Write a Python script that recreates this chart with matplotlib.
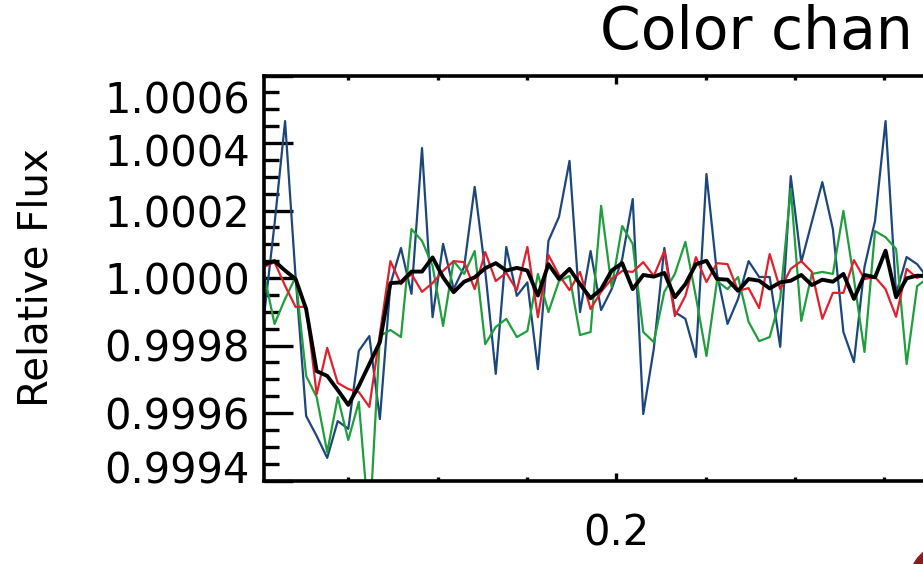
import numpy as np
import matplotlib
matplotlib.use("Agg")
import matplotlib.pyplot as plt
from matplotlib.ticker import MultipleLocator
from matplotlib.transforms import ScaledTranslation
from matplotlib.patches import Circle

# orbital phase of each sample
phase = [0.0027, 0.0086, 0.0145, 0.0204, 0.0263, 0.0322, 0.0381, 0.0440,
         0.0499, 0.0558, 0.0617, 0.0676, 0.0735, 0.0794, 0.0853, 0.0912,
         0.0971, 0.1030, 0.1089, 0.1148, 0.1207, 0.1266, 0.1325, 0.1384,
         0.1443, 0.1502, 0.1561, 0.1620, 0.1679, 0.1738, 0.1797, 0.1856,
         0.1915, 0.1974, 0.2033, 0.2092, 0.2151, 0.2210, 0.2269, 0.2328,
         0.2387, 0.2446, 0.2505, 0.2564, 0.2623, 0.2682, 0.2741, 0.2800,
         0.2859, 0.2918, 0.2977, 0.3036, 0.3095, 0.3154, 0.3213, 0.3272,
         0.3331, 0.3390, 0.3449, 0.3508, 0.3567, 0.3626, 0.3685, 0.3744]

# deviation from unity, parts per million
blue_ppm = [-113, 160, 465, 3, -409, -468, -533, -424, -447, -216, -172, -418,
            -18, 89, -47, 385, -116, 101, -33, 33, 270, 21, -284, 92,
            -53, -13, -270, 110, 181, 347, -101, 80, -95, -33, 56, 234,
            -403, -210, 89, -101, -121, -234, 308, 12, -136, -62, 50, 3,
            3, -204, 302, 47, 166, 284, 145, -160, -249, 33, 169, 465,
            -47, 62, 41, 0]
green_ppm = [12, -136, -62, 3, -290, -353, -516, -353, -480, -367, -744, -172,
             -154, -175, 145, 110, 36, -142, 50, 12, 80, -196, -145, -121,
             -175, -157, 12, -101, -9, 6, -169, -160, 214, -27, 154, 101,
             -160, -190, -41, 12, 107, -56, -231, -9, -33, 3, -130, -187,
             -175, -62, 264, -127, 12, 18, 12, 199, -3, -219, 139, 121,
             86, -255, -24, 0]
red_ppm = [33, 47, -23, -86, -85, -344, -207, -311, -329, -338, -382, -166,
           50, -18, 12, -41, -15, 21, 50, 47, -33, 77, -9, 15,
           -36, 92, -116, 68, 9, -36, 18, -92, -41, -3, 21, 18,
           47, 6, 80, -113, -53, 62, -12, 44, 41, -38, -30, -89,
           71, -33, 27, 50, 18, -121, -44, -44, 53, -3, 3, -33,
           -115, 27, 0, 20]
black_ppm = [41, 50, 22, -3, -92, -276, -290, -332, -376, -320, -255, -190,
             -15, -13, 19, 19, 61, 2, -42, -11, 2, 29, 44, 22,
             30, 22, -52, 41, -3, 27, -18, -60, -33, 22, 44, -33,
             9, 4, 15, -57, -18, 41, 51, -3, -5, -38, -3, -8,
             -31, -13, -8, 9, -21, -5, -11, 12, -62, 9, 2, 81,
             -57, -1, 7, 5]

ytick_vals = [0.9994, 0.9996, 0.9998, 1.0000, 1.0002, 1.0004, 1.0006]
ytick_labels = ["0.9994", "0.9996", "0.9998", "1.0000", "1.0002", "1.0004", "1.0006"]
xtick_vals = [0.2]
xtick_labels = ["0.2"]

fig = plt.figure(figsize=(9.23, 5.64), dpi=100)
ax = fig.add_axes([264 / 923, 1 - 480.5 / 564, 709.4 / 923, 405 / 564])

series = [(blue_ppm, "#1d467a", 1.6), (green_ppm, "#1f9e3c", 1.6),
          (red_ppm, "#e0202c", 1.6), (black_ppm, "black", 2.8)]
for ppm, col, lw in series:
    flux = 1 + np.array(ppm) * 1e-6
    ax.plot(phase, flux, color=col, lw=lw)

ax.set_xlim(0.0027, 0.4)
ax.set_ylim(0.9994, 1.0006)

ax.set_yticks(ytick_vals)
ax.set_yticklabels(ytick_labels)
ax.yaxis.set_minor_locator(MultipleLocator(0.00005))
ax.set_xticks(xtick_vals)
ax.set_xticklabels(xtick_labels)
ax.xaxis.set_minor_locator(MultipleLocator(0.05))

ax.tick_params(axis='y', which='major', direction='in', length=21, width=2.4,
               labelsize=30, pad=10)
ax.tick_params(axis='y', which='minor', direction='in', length=11, width=2.4)
ax.tick_params(axis='x', which='major', direction='in', length=6, width=2.4,
               labelsize=30, pad=23, top=True)
ax.tick_params(axis='x', which='minor', direction='in', length=3, width=2.4,
               top=True)
for s in ax.spines.values():
    s.set_linewidth(2.6)

# IDL-style nudging of the end labels
offsets = [13, 0, 0, 0, 0, -7, -21]
for tick, off in zip(ax.yaxis.get_major_ticks(), offsets):
    tick.label1.set_transform(tick.label1.get_transform()
                              + ScaledTranslation(0, off / 100, fig.dpi_scale_trans))

ax.set_ylabel("Relative Flux", fontsize=29)
ax.yaxis.set_label_coords(-0.293, 0.5)

fig.text(600 / 923, 1 - 33 / 564, "Color chan", fontsize=42, ha='left', va='center')

fig.add_artist(Circle((9.45, -0.16), 0.35, color="#8b1c1c",
                      transform=fig.dpi_scale_trans))

fig.savefig("out.png", dpi=100)
